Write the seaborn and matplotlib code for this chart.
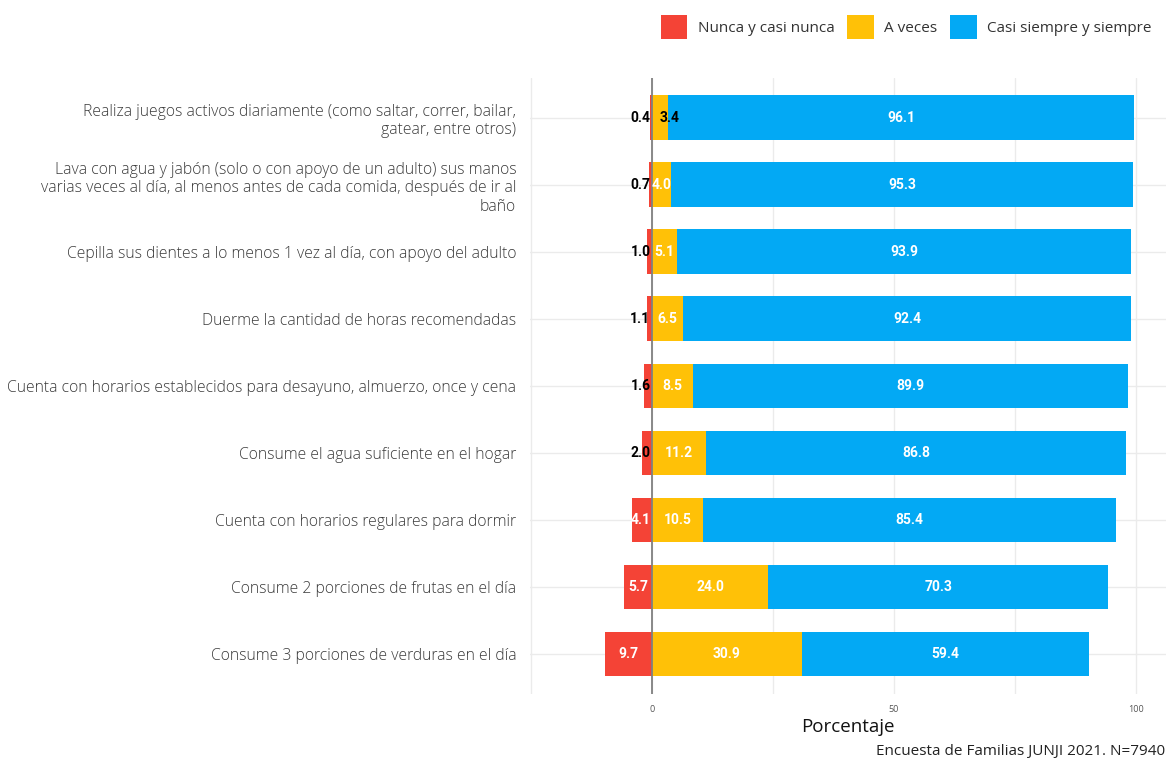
import numpy as np
import pandas as pd
import matplotlib.pyplot as plt
import seaborn as sns
from matplotlib.patches import Patch

categorias = [
    "Realiza juegos activos diariamente (como saltar, correr, bailar,\ngatear, entre otros)",
    "Lava con agua y jabón (solo o con apoyo de un adulto) sus manos\nvarias veces al día, al menos antes de cada comida, después de ir al\nbaño",
    "Cepilla sus dientes a lo menos 1 vez al día, con apoyo del adulto",
    "Duerme la cantidad de horas recomendadas",
    "Cuenta con horarios establecidos para desayuno, almuerzo, once y cena",
    "Consume el agua suficiente en el hogar",
    "Cuenta con horarios regulares para dormir",
    "Consume 2 porciones de frutas en el día",
    "Consume 3 porciones de verduras en el día",
]
nunca = [0.4, 0.7, 1.0, 1.1, 1.6, 2.0, 4.1, 5.7, 9.7]
a_veces = [3.4, 4.0, 5.1, 6.5, 8.5, 11.2, 10.5, 24.0, 30.9]
siempre = [96.1, 95.3, 93.9, 92.4, 89.9, 86.8, 85.4, 70.3, 59.4]

series = ["Nunca y casi nunca", "A veces", "Casi siempre y siempre"]
colores = ["#F44336", "#FFC107", "#03A9F4"]

df = pd.DataFrame({"cat": categorias, "nunca": nunca, "a_veces": a_veces, "siempre": siempre})
df["neg"] = -df["nunca"]
df["acum"] = df["a_veces"] + df["siempre"]

sns.set_theme(style="white")
plt.rcParams["font.family"] = ["Open Sans", "DejaVu Sans"]

fig = plt.figure(figsize=(11.69, 7.62), dpi=100)
ax = fig.add_axes([0.4534, 0.089, 0.544, 0.809])

# stack: total first, then a veces on top, nunca to the left
sns.barplot(data=df, x="acum", y="cat", color=colores[2], orient="h", width=0.67,
            linewidth=0, saturation=1, ax=ax, zorder=2)
sns.barplot(data=df, x="a_veces", y="cat", color=colores[1], orient="h", width=0.67,
            linewidth=0, saturation=1, ax=ax, zorder=2)
sns.barplot(data=df, x="neg", y="cat", color=colores[0], orient="h", width=0.67,
            linewidth=0, saturation=1, ax=ax, zorder=2)

lab_font = dict(family=["Roboto", "DejaVu Sans"], weight="bold", fontsize=10,
                ha="center", va="center", zorder=4)
for i, row in df.iterrows():
    n, a, s = row["nunca"], row["a_veces"], row["siempre"]
    ax.text(-max(n / 2, 2.4), i, f"{n:.1f}", color="white" if n >= 4 else "black", **lab_font)
    ax.text(max(a / 2, 2.0) if a >= 4 else 3.7, i, f"{a:.1f}",
            color="white" if a >= 4 else "black", **lab_font)
    ax.text(a + s / 2, i, f"{s:.1f}", color="white", **lab_font)

ax.axvline(0, color="#808080", lw=1.3, zorder=3)
ax.set_xlim(-25.2, 106.2)
ax.set_ylim(8.6, -0.6)
ax.set_xticks([0, 50, 100])
ax.set_xticks([-25, 25, 75], minor=True)
ax.grid(True, which="both", axis="x", color="#EBEBEB", lw=1, zorder=0)
ax.grid(True, which="major", axis="y", color="#EBEBEB", lw=1, zorder=0)
for sp in ax.spines.values():
    sp.set_visible(False)
ax.tick_params(axis="x", which="both", length=0, labelsize=6.5, labelcolor="#555555", pad=8)
ax.tick_params(axis="y", length=0, labelsize=11.3, labelcolor="#3a3a3a", pad=10)
for t in ax.get_yticklabels():
    t.set_horizontalalignment("right")
    t.set_multialignment("right")
    t.set_fontweight("light")
ax.set_ylabel("")
ax.set_xlabel("Porcentaje", fontsize=13.5, color="#111111", labelpad=3)

handles = [Patch(facecolor=c, edgecolor="none") for c in colores]
fig.legend(handles, series, loc="upper right", bbox_to_anchor=(0.997, 0.998), ncol=3,
           frameon=False, fontsize=11, handlelength=1.75, handleheight=2.0,
           handletextpad=0.7, columnspacing=0.8, labelcolor="#333333")

fig.text(0.997, 0.004, "Encuesta de Familias JUNJI 2021. N=7940", ha="right", va="bottom",
         fontsize=11, color="#222222")

fig.savefig("out.png", dpi=100)
